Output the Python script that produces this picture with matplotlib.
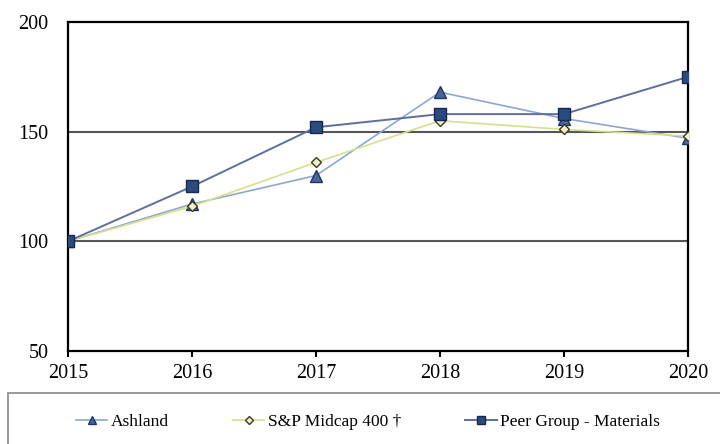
import matplotlib.pyplot as plt
from matplotlib.patches import Rectangle

plt.rcParams['font.family'] = 'Liberation Serif'

years = [2015, 2016, 2017, 2018, 2019, 2020]
ashland = [100, 117, 130, 168, 156, 147]
midcap = [100, 116, 136, 155, 151, 148]
peer = [100, 125, 152, 158, 158, 175]

fig = plt.figure(figsize=(7.2, 4.44), dpi=100)
ax = fig.add_axes([68/720, 1-351/444, 620/720, 329/444])

ax.plot(years, ashland, color='#8ea6d6', lw=1.2, marker='^', ms=8,
        mfc='#4a6596', mec='#1f3566', label='Ashland', zorder=3)
ax.plot(years, midcap, color='#d6e08c', lw=1.2, marker='D', ms=5,
        mfc='#f2f0c8', mec='#3a3a20', label='S&P Midcap 400 †', zorder=3)
ax.plot(years, peer, color='#5d6f9c', lw=1.4, marker='s', ms=8,
        mfc='#2a4a80', mec='#16284d', label='Peer Group - Materials', zorder=3)

ax.set_xlim(2015, 2020)
ax.set_ylim(50, 200)
ax.set_yticks([50, 100, 150, 200])
ax.set_xticks(years)
for y in [100, 150]:
    ax.axhline(y, color='#555555', lw=1.5, zorder=1)
for s in ax.spines.values():
    s.set_linewidth(1.6)
    s.set_color('black')
ax.tick_params(axis='y', length=0, pad=14, labelsize=14.5)
ax.tick_params(axis='x', length=4, width=1.5, direction='out', pad=5, labelsize=14.5)

# legend box
fig.patches.append(Rectangle((8/720, -0.05), 1.0, 1-393/444+0.05, transform=fig.transFigure,
                             fill=False, edgecolor='#888888', lw=1.2, clip_on=False))
fig.legend(loc='center', bbox_to_anchor=(368/720, 1-422/444), ncol=3, frameon=False,
           fontsize=12.5, columnspacing=3.7, handlelength=1.8, handletextpad=0.2,
           markerscale=0.75)

fig.savefig('out.png', dpi=100)
